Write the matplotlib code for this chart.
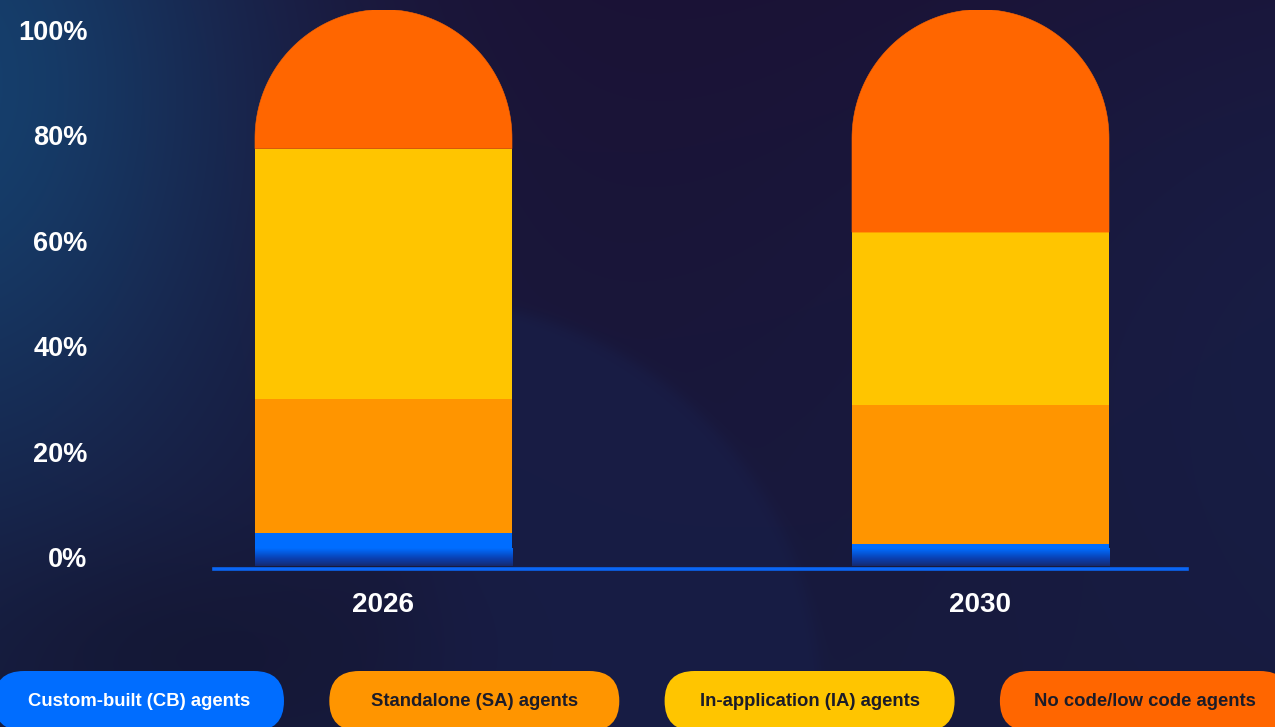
import numpy as np
import matplotlib
matplotlib.use("Agg")
import matplotlib.pyplot as plt
from matplotlib.patches import PathPatch, FancyBboxPatch
from matplotlib.path import Path
from matplotlib.colors import LinearSegmentedColormap

plt.rcParams['font.family'] = ['Liberation Sans', 'DejaVu Sans']
plt.rcParams['font.weight'] = 'bold'

# ---------------- data ----------------
years = ["2026", "2030"]
segments = ["Custom-built (CB) agents", "Standalone (SA) agents",
            "In-application (IA) agents", "No code/low code agents"]
custom_built = [6, 4]
standalone = [24, 25]
in_application = [45, 31]
no_code = [25, 40]
ytick_values = [0, 20, 40, 60, 80, 100]
ytick_labels = ["0%", "20%", "40%", "60%", "80%", "100%"]

seg_colors = ["#006dff", "#ff9500", "#ffc500", "#ff6600"]
pill_text_colors = ["#ffffff", "#1c1c28", "#1c1c28", "#1c1c28"]

W, H = 1275, 727
fig = plt.figure(figsize=(W / 100, H / 100), dpi=100)

# ---------------- background ----------------
bg = fig.add_axes([0, 0, 1, 1], zorder=-10)
bg.set_axis_off()
yy, xx = np.mgrid[0:H, 0:W].astype(float)
t = (yy / H)[..., None]
purple = np.array([0x1b, 0x12, 0x35]) / 255
navy = np.array([0x17, 0x1a, 0x3d]) / 255
img = purple * (1 - t) + navy * t


def blend(img, color, w):
    c = np.array(color) / 255
    w = np.clip(w, 0, 1)[..., None]
    return img * (1 - w) + c * w


# right-side bluish
img = blend(img, (0x17, 0x22, 0x4c), 0.6 * np.exp(-((xx - 1400) / 480) ** 2 - ((yy - 330) / 420) ** 2))
# hill-like lighter region (visible between the bars)
d = np.sqrt((xx - 420) ** 2 + (yy - 700) ** 2)
edge = 1 / (1 + np.exp((d - 400) / 4))
img = blend(img, (0x18, 0x1d, 0x46),
            0.85 * edge * np.clip((yy - 250) / 60, 0, 1) / (1 + np.exp(-(xx - 420) / 25)))
# left blue glow
img = blend(img, (0x15, 0x42, 0x70), 0.95 * np.exp(-((xx + 60) / 320) ** 2 - ((yy - 80) / 430) ** 2))
# bottom-left darker
img = blend(img, (0x12, 0x13, 0x2c), 0.5 * np.exp(-((xx - 180) / 220) ** 2 - ((yy - 650) / 110) ** 2))
bg.imshow(img, extent=[0, W, H, 0], aspect='auto', interpolation='bilinear')
bg.set_xlim(0, W)
bg.set_ylim(H, 0)

# ---------------- main bars ----------------
ax_left, ax_right, ax_bottom, ax_top = 214, 1187, 566, 9.5
ax = fig.add_axes([ax_left / W, (H - ax_bottom) / H, (ax_right - ax_left) / W, (ax_bottom - ax_top) / H])
ax.patch.set_alpha(0)
x = np.arange(len(years))
xlim = (-0.2839, 1.3459)
ylim = (0, 100)
bar_w = 0.4305

cb = np.array(custom_built, float)
sa = np.array(standalone, float)
ia = np.array(in_application, float)
nc = np.array(no_code, float)

ax.bar(x, cb, width=bar_w, color=seg_colors[0], zorder=2)
ax.bar(x, sa, width=bar_w, bottom=cb, color=seg_colors[1], zorder=2)
ax.bar(x, ia, width=bar_w, bottom=cb + sa, color=seg_colors[2], zorder=2)
ax.set_xlim(*xlim)
ax.set_ylim(*ylim)

# pixel scale to make the rounded cap circular
fig.canvas.draw()
p0 = ax.transData.transform((0, 0))
p1 = ax.transData.transform((1, 1))
px_x = p1[0] - p0[0]
px_y = p1[1] - p0[1]
rx = bar_w / 2
ry = rx * px_x / px_y

for xi, b, h in zip(x, cb + sa + ia, nc):
    top = b + h
    x0, x1 = xi - bar_w / 2, xi + bar_w / 2
    th = np.linspace(0, np.pi, 120)
    verts = [(x0, b), (x1, b), (x1, top - ry)]
    verts += [(xi + rx * np.cos(a), top - ry + ry * np.sin(a)) for a in th]
    verts += [(x0, b), (x0, b)]
    codes = [Path.MOVETO] + [Path.LINETO] * (len(verts) - 2) + [Path.CLOSEPOLY]
    ax.add_patch(PathPatch(Path(verts, codes), facecolor=seg_colors[3],
                           edgecolor=seg_colors[3], linewidth=0.4, zorder=3))

# blue bottom fade
fade = LinearSegmentedColormap.from_list("fade", ["#17286a", "#0a3fb0", "#006dff"])
grad = np.linspace(0, 1, 64) ** 0.8
for xi, h in zip(x, cb):
    g = min(3.2, h)
    ax.imshow(grad[:, None], extent=[xi - bar_w / 2, xi + bar_w / 2, 0, g], origin='lower',
              cmap=fade, aspect='auto', zorder=3, interpolation='bilinear')
ax.set_xlim(*xlim)
ax.set_ylim(*ylim)

for s in ['top', 'right', 'left']:
    ax.spines[s].set_visible(False)
ax.spines['bottom'].set_color('#0a66f5')
ax.spines['bottom'].set_linewidth(2.6)
ax.spines['bottom'].set_position(('outward', 2))
ax.set_yticks([])
ax.set_xticks(x, years)
ax.tick_params(axis='x', length=0, pad=17, labelsize=20, labelcolor='white')
for lab in ax.get_xticklabels():
    lab.set_fontweight('bold')

# percent labels
ax2 = ax.twinx()
ax2.set_ylim(-1.71, 103.9)
ax2.yaxis.tick_left()
ax2.set_yticks(ytick_values, ytick_labels)
ax2.tick_params(axis='y', length=0, pad=91, labelsize=19.5, labelcolor='white')
for lab in ax2.get_yticklabels():
    lab.set_fontweight('bold')
for s in ax2.spines.values():
    s.set_visible(False)

# ---------------- legend pills ----------------
lg = fig.add_axes([0, 0, 1, 1], zorder=5)
lg.set_axis_off()
lg.patch.set_alpha(0)
lg.set_xlim(0, W)
lg.set_ylim(H, 0)
pill_w, pill_h = 290, 60
pill_cy = 701
for i, (name, col, tc) in enumerate(zip(segments, seg_colors, pill_text_colors)):
    cx = 139 + 335.3 * i
    lg.add_patch(FancyBboxPatch((cx - pill_w / 2, pill_cy - pill_h / 2), pill_w, pill_h,
                                boxstyle=f"round,pad=0,rounding_size={pill_h / 2}",
                                facecolor=col, edgecolor='none'))
    lg.text(cx, pill_cy + 1, name, ha='center', va='center', color=tc,
            fontsize=13.3, fontweight='bold')

fig.savefig("out.png", dpi=100, facecolor='#1a1636')
